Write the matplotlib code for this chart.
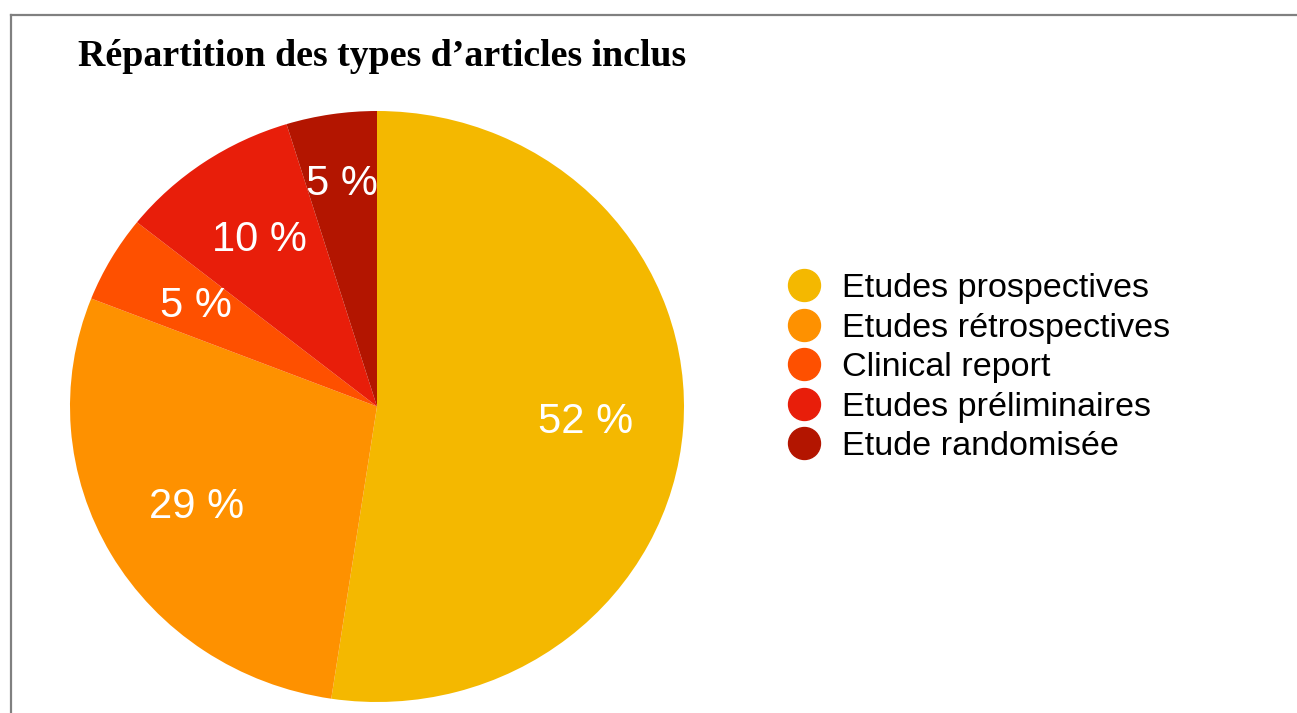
import numpy as np
import matplotlib.pyplot as plt
from matplotlib.lines import Line2D

# article counts (21 articles in total)
categories = ["Etudes prospectives", "Etudes rétrospectives", "Clinical report",
              "Etudes préliminaires", "Etude randomisée"]
counts = [11, 6, 1, 2, 1]
colors = ["#F4B800", "#FE9100", "#FE5000", "#E81E0A", "#B31500"]
title = "Répartition des types d\u2019articles inclus"

W, H = 1297, 713
fig = plt.figure(figsize=(W / 100, H / 100), dpi=100)

# frame of the original screenshot (top and left edges only)
fig.add_artist(Line2D([11 / W, 1296 / W], [1 - 15 / H, 1 - 15 / H], color="#808080", lw=1.6))
fig.add_artist(Line2D([11 / W, 11 / W], [0, 1 - 15 / H], color="#808080", lw=1.6))

fig.text(78 / W, 1 - 66 / H, title, family="Liberation Serif", weight="bold",
         fontsize=27.3, ha="left", va="baseline")

ax = fig.add_axes([70 / W, 1 - 702 / H, 614 / W, 591 / H])
wedges, texts, autotexts = ax.pie(
    counts, colors=colors, startangle=90, counterclock=False,
    autopct=lambda p: f"{p:.0f} %", pctdistance=0.68,
    textprops=dict(color="white", family="Liberation Sans", fontsize=30))
# the small top slice has its label pushed further out
w = wedges[-1]
mid = np.deg2rad((w.theta1 + w.theta2) / 2)
autotexts[-1].set_position((0.76 * np.cos(mid), 0.76 * np.sin(mid)))
ax.set_aspect("auto")
ax.set_xlim(-1, 1)
ax.set_ylim(-1, 1)
ax.axis("off")

handles = [Line2D([], [], marker="o", ls="none", markersize=23,
                  markerfacecolor=c, markeredgecolor=c) for c in colors]
fig.legend(handles, categories, loc="upper left", bbox_to_anchor=(766 / W, 1 - 256 / H),
           frameon=False, prop=dict(family="Liberation Sans", size=24.6),
           labelspacing=0.25, handletextpad=0.53, handlelength=1.2, borderpad=0)

fig.savefig("out.png", dpi=100, facecolor="white")
